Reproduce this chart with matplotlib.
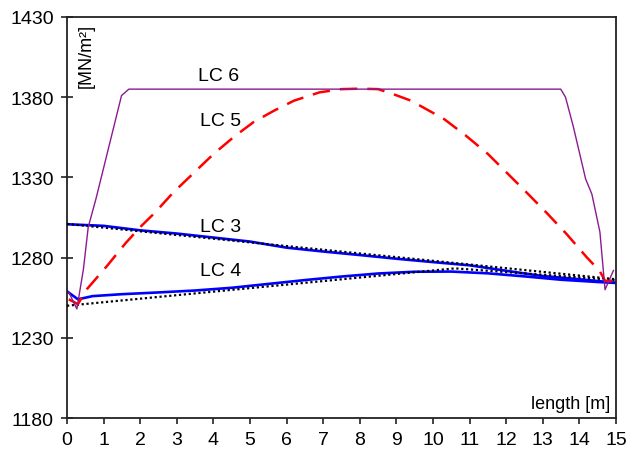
import matplotlib
matplotlib.use("Agg")
import matplotlib.pyplot as plt

plt.rcParams['font.family'] = ['Liberation Sans', 'DejaVu Sans']

# Stress along the length for the load cases
lc3_x = [0, 1, 2, 3, 4, 5, 6, 7, 8, 9, 10, 11, 12, 13, 14, 15]
lc3_y = [1300.8, 1299.8, 1297.0, 1295.0, 1292.5, 1290.0, 1286.2, 1283.8,
         1281.6, 1279.3, 1277.2, 1275.2, 1271.8, 1268.5, 1266.5, 1264.3]

lc4_x = [0, 0.3, 0.7, 1.5, 2.5, 3.5, 4.5, 5.5, 6.5, 7.5, 8.5, 9.5, 10.5,
         11.5, 12.5, 13.5, 14.5, 15]
lc4_y = [1259.0, 1254.0, 1256.0, 1257.2, 1258.3, 1259.5, 1261.2, 1263.6,
         1266.0, 1268.2, 1270.1, 1271.2, 1271.3, 1270.2, 1268.3, 1266.2,
         1264.8, 1264.2]

# Reference (design) lines
ref3_x = [0, 15]
ref3_y = [1301.0, 1266.5]
ref4_x = [0, 10.6, 15]
ref4_y = [1250.0, 1273.3, 1266.0]

lc5_x = [0.05, 0.3, 0.55, 1.1, 1.6, 2.0, 2.4, 2.9, 3.45, 4.0, 4.6, 5.1, 5.65,
         6.2, 6.9, 7.5, 8.0, 8.5, 8.9, 9.4, 10.3, 10.9, 11.5, 12.1, 12.6,
         13.1, 13.65, 14.2, 14.55, 14.7, 14.85, 14.95]
lc5_y = [1254.0, 1251.0, 1260.5, 1275.0, 1289.0, 1299.0, 1308.0, 1320.5,
         1332.5, 1344.5, 1356.0, 1364.5, 1371.5, 1377.8, 1383.0, 1385.0,
         1385.3, 1385.0, 1382.0, 1377.8, 1366.4, 1356.0, 1344.6, 1331.0,
         1319.6, 1308.0, 1294.7, 1280.2, 1271.8, 1265.6, 1265.2, 1267.7]

lc6_x = [0.05, 0.27, 0.45, 0.58, 0.79, 1.49, 1.69, 13.49, 13.62, 13.83,
         14.17, 14.34, 14.56, 14.7, 14.93]
lc6_y = [1258.4, 1248.0, 1273.0, 1299.0, 1316.5, 1381.0, 1385.0, 1385.0,
         1380.0, 1362.0, 1329.0, 1319.6, 1296.0, 1260.0, 1272.0]

x_ticks = list(range(0, 16))
y_ticks = [1180, 1230, 1280, 1330, 1380, 1430]

fig = plt.figure(figsize=(6.32, 4.60), dpi=100)
ax = fig.add_axes([0.106, 0.089, 0.8687, 0.872])

ax.plot(lc3_x, lc3_y, color='#0000FF', lw=1.9, zorder=2)
ax.plot(lc4_x, lc4_y, color='#0000FF', lw=1.9, zorder=2)
ax.plot(ref3_x, ref3_y, color='black', lw=1.6, linestyle=(0, (1, 1.2)), zorder=3)
ax.plot(ref4_x, ref4_y, color='black', lw=1.6, linestyle=(0, (1, 1.2)), zorder=3)
ax.plot(lc5_x, lc5_y, color='#FF0000', lw=1.8, dashes=(7, 4), zorder=4)
ax.plot(lc6_x, lc6_y, color='#8B1A8F', lw=1.0, zorder=5)

ax.text(4.15, 1393.5, 'LC 6', fontsize=14, ha='center', va='center')
ax.text(4.2, 1365.5, 'LC 5', fontsize=14, ha='center', va='center')
ax.text(4.2, 1299.5, 'LC 3', fontsize=14, ha='center', va='center')
ax.text(4.2, 1272.0, 'LC 4', fontsize=14, ha='center', va='center')

ax.text(0.02, 0.985, '[MN/m²]', transform=ax.transAxes, rotation=90,
        fontsize=13, ha='left', va='top')
ax.text(0.99, 0.015, 'length [m]', transform=ax.transAxes,
        fontsize=13, ha='right', va='bottom')

ax.set_xlim(0, 15)
ax.set_ylim(1180, 1430)
ax.set_xticks(x_ticks)
ax.set_yticks(y_ticks)
ax.tick_params(axis='x', direction='out', length=4.5, width=1.2,
               labelsize=14, pad=5, color='#222222')
ax.tick_params(axis='y', direction='inout', length=9, width=1.2,
               labelsize=14, pad=5, color='#222222')
for s in ax.spines.values():
    s.set_linewidth(1.3)
    s.set_color('#222222')

fig.savefig('out.png', dpi=100)
